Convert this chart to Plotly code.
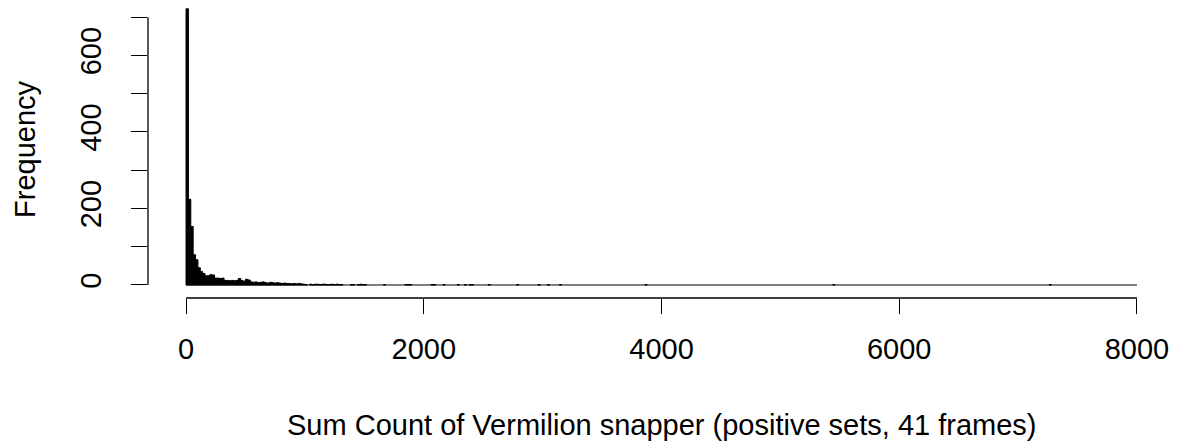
import plotly.graph_objects as go

# Histogram of sum counts (bin width 20); only non-empty bins listed
bin_width = 20
bin_left = [0, 20, 40, 60, 80, 100, 120, 140, 160, 180, 200, 220, 240, 260, 280, 300,
            320, 340, 360, 380, 400, 420, 440, 460, 480, 500, 520,
            540, 560, 580, 600, 620, 640, 660, 680, 700, 720, 740, 760, 780, 800, 820,
            840, 860, 880, 900, 920, 940, 960, 980, 1000,
            1040, 1060, 1080, 1100, 1120, 1140, 1160, 1180, 1200, 1220, 1240, 1260, 1280, 1300,
            1380, 1400, 1440, 1460, 1480, 1500, 1660, 1840, 1860, 1880, 2060, 2080, 2160,
            2280, 2340, 2380, 2400, 2540, 2780, 2960, 3040, 3140, 3860, 5440, 7260]
counts = [722, 224, 153, 79, 66, 45, 35, 30, 24, 24, 27, 26, 18, 18, 17, 18,
          12, 12, 11, 12, 11, 12, 17, 12, 10, 15, 13,
          8, 7, 8, 6, 7, 8, 6, 5, 7, 6, 5, 6, 5, 4, 5,
          4, 4, 3, 4, 3, 4, 3, 2, 1,
          2, 1, 2, 2, 1, 2, 2, 1, 1, 2, 1, 2, 1, 1,
          1, 1, 1, 2, 1, 1, 1, 1, 1, 1, 1, 1, 1,
          1, 1, 1, 1, 1, 1, 1, 1, 1, 1, 1, 1]

break_min, break_max = 0, 8000
x_ticks = [0, 2000, 4000, 6000, 8000]
y_ticks = [0, 100, 200, 300, 400, 500, 600, 700]
y_ticktext = ["0", "", "200", "", "400", "", "600", ""]

x_title = "Sum Count of Vermilion snapper (positive sets, 41 frames)"
y_title = "Frequency"

FONT = "Liberation Sans, Arial, sans-serif"
FS = 29

centers = [b + bin_width / 2 for b in bin_left]

fig = go.Figure()
fig.add_trace(go.Bar(
    x=centers, y=counts, width=[bin_width] * len(centers),
    marker=dict(color="black", line=dict(color="black", width=1)),
    hoverinfo="x+y",
))

xr = [break_min - 0.04 * (break_max - break_min), break_max + 0.04 * (break_max - break_min)]

fig.update_layout(
    width=1177, height=445,
    margin=dict(l=148, r=2, t=0, b=147, autoexpand=False),
    paper_bgcolor="white", plot_bgcolor="white",
    showlegend=False,
    font=dict(family=FONT, size=FS, color="black"),
    xaxis=dict(range=xr, tickvals=x_ticks, ticktext=[str(v) for v in x_ticks],
               ticks="outside", ticklen=15, tickwidth=1.3, tickcolor="black",
               showgrid=False, zeroline=False, showline=False, automargin=False,
               tickfont=dict(family=FONT, size=FS, color="black"),
               ticklabelstandoff=10),
    yaxis=dict(range=[-34, 745], tickvals=y_ticks, ticktext=y_ticktext,
               ticks="outside", ticklen=16, tickwidth=1.3, tickcolor="black",
               showgrid=False, zeroline=False, showline=False, tickangle=-90,
               automargin=False, ticklabelstandoff=18,
               tickfont=dict(family=FONT, size=FS, color="black")),
    shapes=[
        dict(type="line", xref="x", yref="paper", x0=x_ticks[0], x1=x_ticks[-1], y0=0, y1=0,
             line=dict(color="black", width=1.3)),
        dict(type="line", xref="paper", yref="y", x0=0, x1=0, y0=y_ticks[0], y1=y_ticks[-1],
             line=dict(color="black", width=1.3)),
        dict(type="line", xref="x", yref="y", x0=break_min, x1=break_max, y0=0, y1=0,
             line=dict(color="black", width=1)),
    ],
    annotations=[
        dict(text=x_title, xref="paper", yref="paper", x=0.5, y=-0.426,
             xanchor="center", yanchor="middle", showarrow=False,
             font=dict(family=FONT, size=FS, color="black")),
        dict(text=y_title, xref="paper", yref="paper", x=-0.1198, y=0.5,
             xanchor="center", yanchor="middle", showarrow=False, textangle=-90,
             font=dict(family=FONT, size=FS, color="black")),
    ],
)

fig.write_html("out.html", config={"displayModeBar": False},
               post_script="document.body.style.margin='0';document.body.style.overflow='hidden';")
